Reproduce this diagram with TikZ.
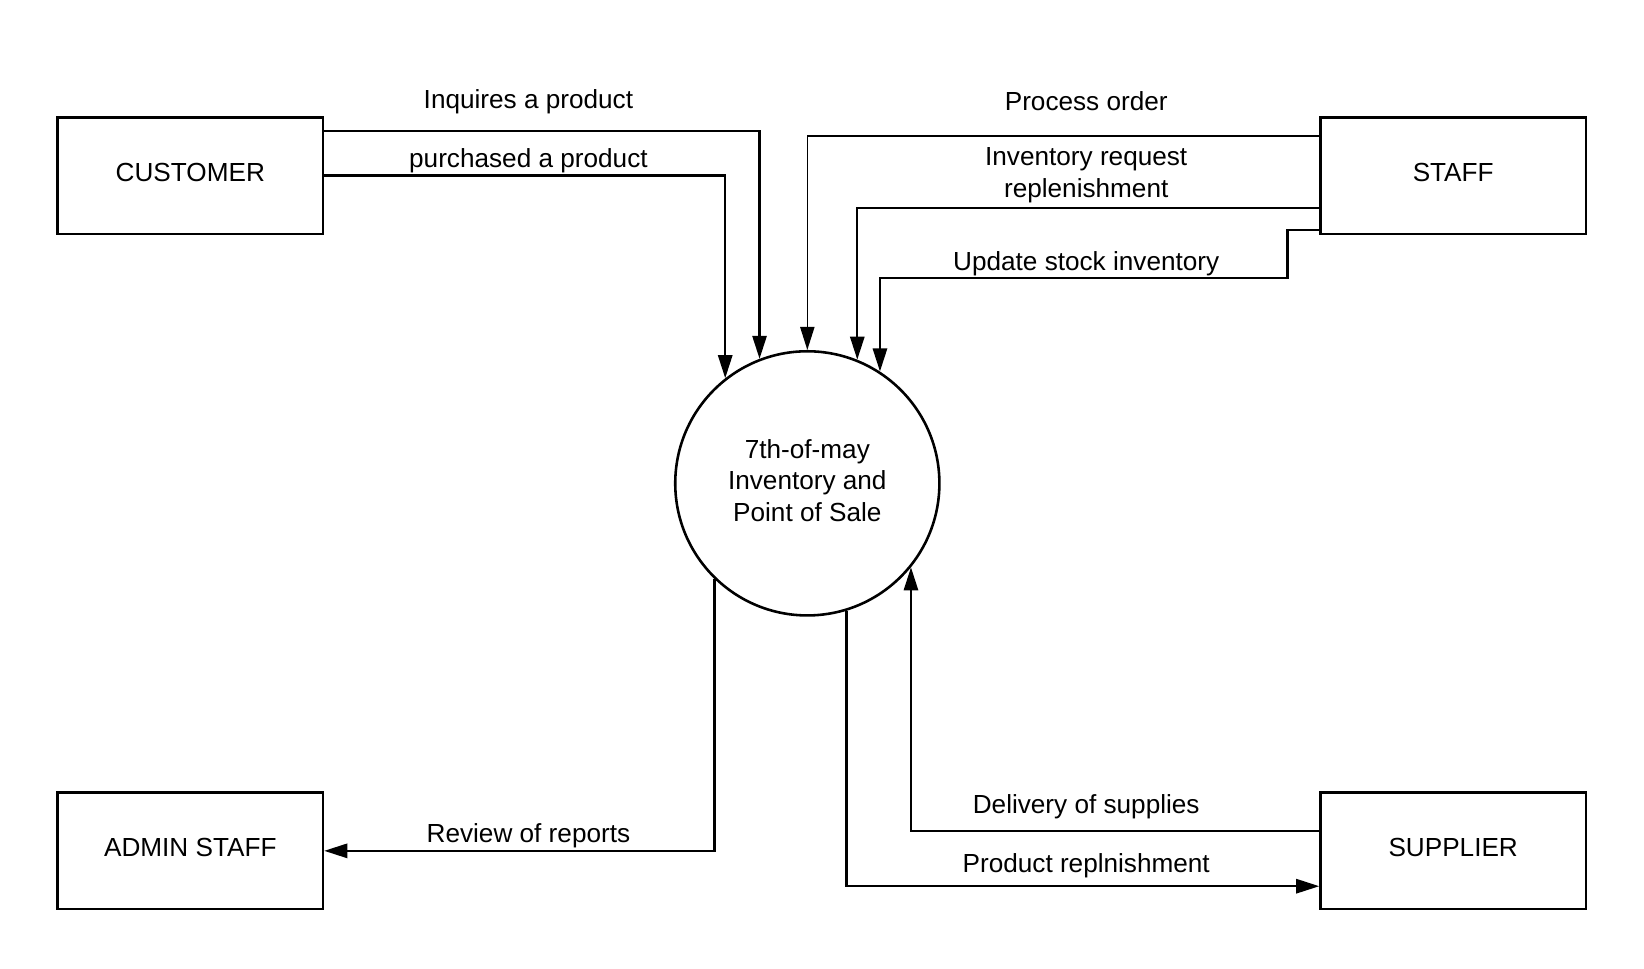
\documentclass[tikz,border=0pt]{standalone}
\usepackage{fontspec}
\setmainfont{Liberation Sans}
\usetikzlibrary{arrows.meta}
\begin{document}
\begin{tikzpicture}[x=0.02cm, y=-0.02cm,
        font=\fontsize{14.2pt}{17pt}\selectfont,
        entity/.style={draw, line width=1.4pt, minimum width=5.06cm, minimum height=2.22cm, inner sep=0pt, text depth=0.12cm},
        process/.style={draw, circle, line width=1.4pt, minimum size=5.04cm, align=center, inner sep=0pt, text depth=0.12cm},
        flow/.style={line width=1.3pt, -{Triangle[length=0.44cm, width=0.27cm]}},
        thinflow/.style={flow, line width=0.9pt},
        lbl/.style={align=center}]
            \useasboundingbox (0,0) rectangle (1568,924);
            \node[entity] (customer) at (181.5,167.5) {CUSTOMER};
            \node[entity] (staff) at (1386,167.5) {STAFF};
            \node[entity] (admin) at (181.5,811.5) {ADMIN STAFF};
            \node[entity] (supplier) at (1386,811.5) {SUPPLIER};
            \node[process] (pos) at (770,461) {7th-of-may\\Inventory and\\Point of Sale};
            \coordinate (updbend) at (1228,265);
            % customer side
            \draw[flow] ([yshift=-0.28cm]customer.north east) -| (pos.111.9);
            \draw[flow] (customer.east) -| (pos.128.9);
            % staff side
            \draw[thinflow] ([yshift=-0.38cm]staff.north west) -| (pos.90);
            \draw[flow] ([yshift=0.52cm]staff.south west) -| (pos.68.5);
            \draw[flow] ([yshift=0.1cm]staff.south west) -| (updbend) -| (pos.57.3);
            % bottom
            \draw[flow] (pos.226.3) |- (admin.east);
            \draw[flow] (pos.287.6) |- ([yshift=0.46cm]supplier.south west);
            \draw[flow] ([yshift=-0.76cm]supplier.north west) -| (pos.321.1);
            % labels
            \node[lbl] (inq) at (504,97.5) {Inquires a product};
            \node[lbl] (pur) at (504,153.5) {purchased a product};
            \node[lbl] (proc) at (1036,96) {Process order};
            \node[lbl] (req) at (1036,167) {Inventory request\\replenishment};
            \node[lbl] (upd) at (1036,251.5) {Update stock inventory};
            \node[lbl] (rev) at (504,797.5) {Review of reports};
            \node[lbl] (del) at (1036,769.5) {Delivery of supplies};
            \node[lbl] (prod) at (1036,825.5) {Product replnishment};
        \end{tikzpicture}
\end{document}
